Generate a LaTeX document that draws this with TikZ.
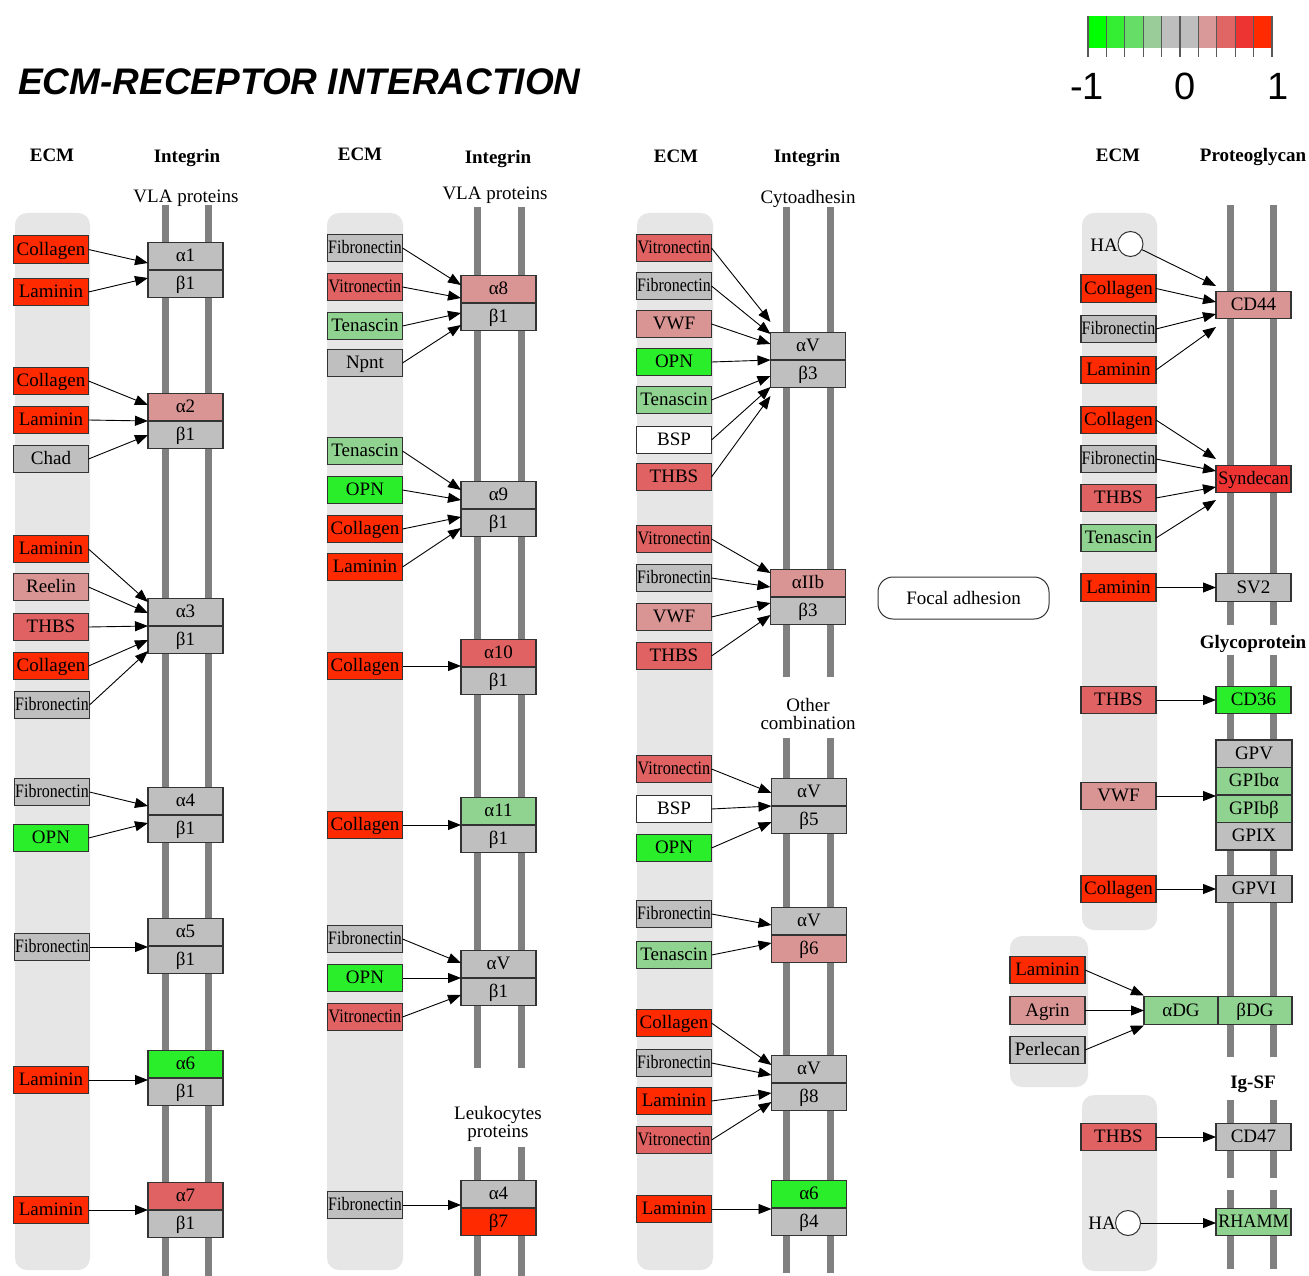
\documentclass[tikz,border=0pt]{standalone}
\usepackage{fontspec}
\setmainfont{Liberation Serif}
\newfontfamily\arialf{Liberation Sans}
\usetikzlibrary{arrows.meta}
\definecolor{cR}{HTML}{FF2A00}
\definecolor{cM}{HTML}{E06262}
\definecolor{cP}{HTML}{D99494}
\definecolor{cG}{HTML}{BFBFBF}
\definecolor{cB}{HTML}{2BEE2B}
\definecolor{cL}{HTML}{90D290}
\definecolor{cS}{HTML}{EE3333}
\definecolor{bgray}{HTML}{E6E6E6}
\definecolor{railc}{HTML}{808080}
\definecolor{lg1}{HTML}{00FF00}
\definecolor{lg2}{HTML}{33EE33}
\definecolor{lg3}{HTML}{66DD66}
\definecolor{lg4}{HTML}{99CC99}
\definecolor{lg5}{HTML}{BEBEBE}
\definecolor{lg6}{HTML}{BEBEBE}
\definecolor{lg7}{HTML}{D99999}
\definecolor{lg8}{HTML}{E06666}
\definecolor{lg9}{HTML}{EE3333}
\definecolor{lg10}{HTML}{FF2A00}
\tikzset{
  bx/.style={draw=black!80, line width=1.1pt, minimum width=75pt, minimum height=27.5pt,
    inner sep=0pt, outer sep=0pt, text height=14pt, text depth=3pt,
    font=\fontsize{19}{19}\selectfont},
  ecmbg/.style={fill=bgray, rounded corners=12pt},
  rail/.style={draw=railc, line width=7pt},
  arr/.style={draw=black, line width=0.9pt, -{Triangle[length=13pt,width=10pt]}},
  hdr/.style={inner sep=0pt, text height=13pt, text depth=4pt, font=\fontsize{19}{19}\selectfont\bfseries},
  sub/.style={inner sep=0pt, align=center, font=\fontsize{19}{18}\selectfont},
  lgnum/.style={inner sep=0pt, font=\arialf\fontsize{38}{38}\selectfont},
}
\newcommand\sq[2][0.84]{\scalebox{#1}[1]{#2}}
\newcommand\pair[7]{%
  \node[bx,fill=#5,anchor=south] (#1a) at (#2,#3) {#4};
  \node[bx,fill=#7,anchor=north] (#1b) at (#2,#3) {#6};}
\newcommand\ar[3]{\draw[arr] (#1.east) -- ([yshift=#3pt]#2a.south west);}
\newcommand\hr[2]{\draw[arr] (#1.east) -- (#1.east -| #2.west);}
\begin{document}
\begin{tikzpicture}[x=1pt,y=-1pt]
\useasboundingbox (0,0) rectangle (1309,1276);
\fill[white] (0,0) rectangle (1309,1276);

% title
\node[anchor=west,inner sep=0pt,font=\arialf\bfseries\itshape\fontsize{37}{37}\selectfont] (title) at (18,82) {ECM-RECEPTOR INTERACTION};

% legend
\foreach \c [count=\i from 0] in {lg1,lg2,lg3,lg4,lg5,lg6,lg7,lg8,lg9,lg10}
  \fill[\c] (1088+18.4*\i,16) rectangle ++(18.4,32);
\foreach \i in {0,...,10}
  \draw[black!65,line width=1.2pt] (1088+18.4*\i,16) -- (1088+18.4*\i,57);
\node[lgnum] (lm1) at (1087,86) {-1};
\node[lgnum] (l0) at (1185,86) {0};
\node[lgnum] (lp1) at (1278,86) {1};

% headers
\node[hdr] (h1e) at (52,157) {ECM};
\node[hdr] (h1i) at (187,158) {Integrin};
\node[sub] (h1v) at (186,198) {VLA proteins};
\node[hdr] (h2e) at (360,156) {ECM};
\node[hdr] (h2i) at (498,159) {Integrin};
\node[sub] (h2v) at (495,195) {VLA proteins};
\node[hdr] (h3e) at (676,158) {ECM};
\node[hdr] (h3i) at (807,158) {Integrin};
\node[sub] (h3v) at (808,199) {Cytoadhesin};
\node[hdr] (h4e) at (1118,157) {ECM};
\node[hdr] (h4p) at (1253,157) {Proteoglycan};
\node[hdr] (h4g) at (1253,644) {Glycoprotein};
\node[hdr] (h4s) at (1253,1084) {Ig-SF};
\node[sub] (h3o) at (808,714) {Other\\combination};
\node[sub] (h2l) at (498,1124) {Leukocytes\\proteins};

% ECM backgrounds
\fill[ecmbg] (15,213) rectangle (90,1270);
\fill[ecmbg] (327,213) rectangle (403,1270);
\fill[ecmbg] (637,213) rectangle (713,1270);
\fill[ecmbg] (1082,213) rectangle (1157,930);
\fill[ecmbg] (1010,936) rectangle (1088,1087);
\fill[ecmbg] (1082,1095) rectangle (1157,1271);

% rails
\foreach \x in {165,208} \draw[rail] (\x,205) -- (\x,1276);
\foreach \x in {477,521} {\draw[rail] (\x,207) -- (\x,1068); \draw[rail] (\x,1147) -- (\x,1276);}
\foreach \x in {786,830} {\draw[rail] (\x,207) -- (\x,677); \draw[rail] (\x,738) -- (\x,1273);}
\foreach \x in {1230,1273} {\draw[rail] (\x,205) -- (\x,625); \draw[rail] (\x,655) -- (\x,1057);
  \draw[rail] (\x,1100) -- (\x,1178); \draw[rail] (\x,1190) -- (\x,1269);}

% focal adhesion
\node[draw=black!80, line width=1pt, rounded corners=15pt, minimum width=171pt, minimum height=42pt,
  font=\fontsize{19}{19}\selectfont] (fa) at (963.5,598) {Focal adhesion};

% ===== column 1 =====
\pair{I1}{185.5}{270}{α1}{cG}{β1}{cG}
\pair{I2}{185.5}{421}{α2}{cP}{β1}{cG}
\pair{I3}{185.5}{626}{α3}{cG}{β1}{cG}
\pair{I4}{185.5}{815}{α4}{cG}{β1}{cG}
\pair{I5}{185.5}{946}{α5}{cG}{β1}{cG}
\pair{I6}{185.5}{1078}{α6}{cB}{β1}{cG}
\pair{I7}{185.5}{1210}{α7}{cM}{β1}{cG}
\node[bx,fill=cR] (p1) at (51,249.5) {Collagen};
\node[bx,fill=cR] (p2) at (51,292) {Laminin};
\node[bx,fill=cR] (p3) at (51,381) {Collagen};
\node[bx,fill=cR] (p4) at (51,420) {Laminin};
\node[bx,fill=cG] (p5) at (51,459) {Chad};
\node[bx,fill=cR] (p6) at (51,549) {Laminin};
\node[bx,fill=cP] (p7) at (51,587) {Reelin};
\node[bx,fill=cM] (p8) at (51,627) {THBS};
\node[bx,fill=cR] (p9) at (51,666) {Collagen};
\node[bx,fill=cG] (p10) at (52,705) {\sq{Fibronectin}};
\node[bx,fill=cG] (p11) at (52,792) {\sq{Fibronectin}};
\node[bx,fill=cB] (p12) at (51,838) {OPN};
\node[bx,fill=cG] (p13) at (52,947) {\sq{Fibronectin}};
\node[bx,fill=cR] (p14) at (51,1080) {Laminin};
\node[bx,fill=cR] (p15) at (51,1210) {Laminin};
\ar{p1}{I1}{7} \ar{p2}{I1}{-8}
\ar{p3}{I2}{16} \ar{p4}{I2}{0} \ar{p5}{I2}{-14}
\ar{p6}{I3}{24} \ar{p7}{I3}{13} \ar{p8}{I3}{0} \ar{p9}{I3}{-14} \ar{p10}{I3}{-25}
\ar{p11}{I4}{9} \ar{p12}{I4}{-8}
\hr{p13}{I5a} \hr{p14}{I6a} \hr{p15}{I7a}

% ===== column 2 =====
\pair{J1}{498.5}{303}{α8}{cP}{β1}{cG}
\pair{J2}{498.5}{509}{α9}{cG}{β1}{cG}
\pair{J3}{498.5}{667}{α10}{cM}{β1}{cG}
\pair{J4}{498.5}{825}{α11}{cL}{β1}{cG}
\pair{J5}{498.5}{978}{αV}{cG}{β1}{cG}
\pair{J6}{498.5}{1208}{α4}{cG}{β7}{cR}
\node[bx,fill=cG] (q1) at (365,248) {\sq{Fibronectin}};
\node[bx,fill=cM] (q2) at (365,287) {\sq[0.85]{Vitronectin}};
\node[bx,fill=cL] (q3) at (365,326) {Tenascin};
\node[bx,fill=cG] (q4) at (365,363) {Npnt};
\node[bx,fill=cL] (q5) at (365,451) {Tenascin};
\node[bx,fill=cB] (q6) at (365,490) {OPN};
\node[bx,fill=cR] (q7) at (365,529) {Collagen};
\node[bx,fill=cR] (q8) at (365,567) {Laminin};
\node[bx,fill=cR] (q9) at (365,666) {Collagen};
\node[bx,fill=cR] (q10) at (365,825) {Collagen};
\node[bx,fill=cG] (q11) at (365,939) {\sq{Fibronectin}};
\node[bx,fill=cB] (q12) at (365,978) {OPN};
\node[bx,fill=cM] (q13) at (365,1017) {\sq[0.85]{Vitronectin}};
\node[bx,fill=cG] (q14) at (365,1205) {\sq{Fibronectin}};
\ar{q1}{J1}{18} \ar{q2}{J1}{5} \ar{q3}{J1}{-10} \ar{q4}{J1}{-22}
\ar{q5}{J2}{19} \ar{q6}{J2}{9} \ar{q7}{J2}{-8} \ar{q8}{J2}{-19}
\hr{q9}{J3a} \hr{q10}{J4a}
\ar{q11}{J5}{15} \ar{q12}{J5}{0} \ar{q13}{J5}{-17}
\hr{q14}{J6a}

% ===== column 3 =====
\pair{K1}{808}{360}{αV}{cG}{β3}{cG}
\pair{K2}{808}{597}{αIIb}{cP}{β3}{cG}
\pair{K3}{809}{806}{αV}{cG}{β5}{cG}
\pair{K4}{809}{935}{αV}{cG}{β6}{cP}
\pair{K5}{809}{1083}{αV}{cG}{β8}{cG}
\pair{K6}{809}{1208}{α6}{cB}{β4}{cG}
\node[bx,fill=cM] (r1) at (674,248) {\sq[0.85]{Vitronectin}};
\node[bx,fill=cG] (r2) at (674,286) {\sq{Fibronectin}};
\node[bx,fill=cP] (r3) at (674,324) {VWF};
\node[bx,fill=cB] (r4) at (674,362) {OPN};
\node[bx,fill=cL] (r5) at (674,400) {Tenascin};
\node[bx,fill=white] (r6) at (674,440) {BSP};
\node[bx,fill=cM] (r7) at (674,477) {THBS};
\node[bx,fill=cM] (r8) at (674,539) {\sq[0.85]{Vitronectin}};
\node[bx,fill=cG] (r9) at (674,578) {\sq{Fibronectin}};
\node[bx,fill=cP] (r10) at (674,617) {VWF};
\node[bx,fill=cM] (r11) at (674,656) {THBS};
\node[bx,fill=cM] (r12) at (674,769) {\sq[0.85]{Vitronectin}};
\node[bx,fill=white] (r13) at (674,809) {BSP};
\node[bx,fill=cB] (r14) at (674,848) {OPN};
\node[bx,fill=cG] (r15) at (674,914) {\sq{Fibronectin}};
\node[bx,fill=cL] (r16) at (674,955) {Tenascin};
\node[bx,fill=cR] (r17) at (674,1023) {Collagen};
\node[bx,fill=cG] (r18) at (674,1063) {\sq{Fibronectin}};
\node[bx,fill=cR] (r19) at (674,1101) {Laminin};
\node[bx,fill=cM] (r20) at (674,1140) {\sq[0.85]{Vitronectin}};
\node[bx,fill=cR] (r21) at (674,1209) {Laminin};
\ar{r1}{K1}{38} \ar{r2}{K1}{26} \ar{r3}{K1}{16} \ar{r4}{K1}{0}
\ar{r5}{K1}{-16} \ar{r6}{K1}{-27} \ar{r7}{K1}{-36}
\ar{r8}{K2}{24} \ar{r9}{K2}{10} \ar{r10}{K2}{-6} \ar{r11}{K2}{-18}
\ar{r12}{K3}{13} \ar{r13}{K3}{0} \ar{r14}{K3}{-16}
\ar{r15}{K4}{10} \ar{r16}{K4}{-8}
\ar{r17}{K5}{18} \ar{r18}{K5}{8} \ar{r19}{K5}{-10} \ar{r20}{K5}{-19}
\hr{r21}{K6a}

% ===== column 4 =====
\node[bx,fill=cP] (cd44) at (1253.5,305) {CD44};
\node[bx,fill=cS] (syn) at (1253.5,479) {\sq[0.95]{Syndecan}};
\node[bx,fill=cG] (sv2) at (1253.5,587.5) {SV2};
\node[bx,fill=cB] (cd36) at (1253.5,700) {CD36};
\node[bx,fill=cG,anchor=north,minimum width=76pt] (gpv) at (1254,740) {GPV};
\node[bx,fill=cL,anchor=north,minimum width=76pt] (gpa) at (gpv.south) {GPIbα};
\node[bx,fill=cL,anchor=north,minimum width=76pt] (gpb) at (gpa.south) {GPIbβ};
\node[bx,fill=cG,anchor=north,minimum width=76pt] (gpx) at (gpb.south) {GPIX};
\node[bx,fill=cG,minimum width=76pt] (gpvi) at (1254,889) {GPVI};
\node[bx,fill=cL,minimum width=74pt] (adg) at (1181,1010.5) {αDG};
\node[bx,fill=cL,minimum width=74pt,anchor=west] (bdg) at (adg.east) {βDG};
\node[bx,fill=cG] (cd47) at (1253.5,1137) {CD47};
\node[bx,fill=cL] (rhamm) at (1253.5,1222) {\sq[0.95]{RHAMM}};

\node[inner sep=0pt,font=\fontsize{19}{19}\selectfont] (ha1t) at (1104,245) {HA};
\node[circle,draw=black!80,fill=white,line width=1pt,minimum size=25pt,inner sep=0pt] (ha1) at (1130.5,244) {};
\node[bx,fill=cR] (s1) at (1118.5,288.5) {Collagen};
\node[bx,fill=cG] (s2) at (1118.5,329) {\sq{Fibronectin}};
\node[bx,fill=cR] (s3) at (1118.5,370) {Laminin};
\node[bx,fill=cR] (s4) at (1118.5,420) {Collagen};
\node[bx,fill=cG] (s5) at (1118.5,459) {\sq{Fibronectin}};
\node[bx,fill=cM] (s6) at (1118.5,498) {THBS};
\node[bx,fill=cL] (s7) at (1118.5,538) {Tenascin};
\node[bx,fill=cR] (s8) at (1118.5,587.5) {Laminin};
\node[bx,fill=cM] (s9) at (1118.5,700) {THBS};
\node[bx,fill=cP] (s10) at (1118.5,796) {VWF};
\node[bx,fill=cR] (s11) at (1118.5,889) {Collagen};
\node[bx,fill=cR] (t1) at (1047.5,970) {Laminin};
\node[bx,fill=cP] (t2) at (1047.5,1010.5) {Agrin};
\node[bx,fill=cG] (t3) at (1047.5,1050) {Perlecan};
\node[bx,fill=cM] (s12) at (1118.5,1137) {THBS};
\node[inner sep=0pt,font=\fontsize{19}{19}\selectfont] (ha2t) at (1102,1223) {HA};
\node[circle,draw=black!80,fill=white,line width=1pt,minimum size=25pt,inner sep=0pt] (ha2) at (1128,1223) {};

\draw[arr] (ha1) -- ([yshift=19pt]cd44.west);
\draw[arr] (s1.east) -- ([yshift=3pt]cd44.west);
\draw[arr] (s2.east) -- ([yshift=-9pt]cd44.west);
\draw[arr] (s3.east) -- ([yshift=-22pt]cd44.west);
\draw[arr] (s4.east) -- ([yshift=20pt]syn.west);
\draw[arr] (s5.east) -- ([yshift=8pt]syn.west);
\draw[arr] (s6.east) -- ([yshift=-8pt]syn.west);
\draw[arr] (s7.east) -- ([yshift=-21pt]syn.west);
\hr{s8}{sv2} \hr{s9}{cd36} \hr{s10}{gpa} \hr{s11}{gpvi}
\draw[arr] (t1.east) -- ([yshift=15pt]adg.west);
\draw[arr] (t2.east) -- (adg.west);
\draw[arr] (t3.east) -- ([yshift=-15pt]adg.west);
\hr{s12}{cd47}
\draw[arr] (ha2) -- (ha2 -| rhamm.west);
\end{tikzpicture}
\end{document}
